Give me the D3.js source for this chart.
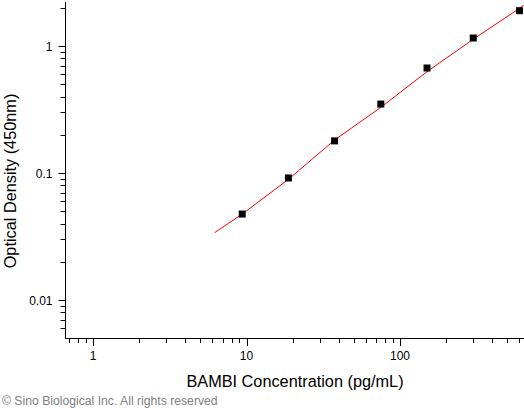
<!DOCTYPE html>
<html><head><meta charset="utf-8">
<script src="https://cdn.jsdelivr.net/npm/d3@7"></script>
<style>body{margin:0;background:#fff}svg{display:block}text{font-family:"Liberation Sans",Arial,sans-serif}</style>
</head><body>
<script>
// Data
const concentrations = [9.375, 18.75, 37.5, 75, 150, 300, 600];
const odValues = [0.0475, 0.0914, 0.179, 0.349, 0.671, 1.156, 1.897];
const fitX = [6.2, 9.375, 18.75, 37.5, 75, 150, 300, 600, 640];
const fitY = [0.0339, 0.0475, 0.0891, 0.182, 0.329, 0.628, 1.13, 1.98, 2.10];
const xMajorTicks = [1, 10, 100];
const xTickLabels = ["1", "10", "100"];
const yMajorTicks = [0.01, 0.1, 1];
const yTickLabels = ["0.01", "0.1", "1"];
const xLabel = "BAMBI Concentration (pg/mL)";
const yLabel = "Optical Density (450nm)";
const copyright = "\u00A9 Sino Biological Inc. All rights reserved";

const W = 524, H = 408;
const svg = d3.select("body").append("svg").attr("width", W).attr("height", H);

const xDec = 153.5, yDec = 127;
const xDomain = [0.657, 700];
const yDomain = [0.00502, 2.22];
const x = d3.scaleLog().domain(xDomain)
  .range([93 + xDec * Math.log10(xDomain[0]), 93 + xDec * Math.log10(xDomain[1])]);
const y = d3.scaleLog().domain(yDomain)
  .range([46 - yDec * Math.log10(yDomain[0]), 46 - yDec * Math.log10(yDomain[1])]);

const x0 = x(xDomain[0]), yB = y(yDomain[0]);

function minorTicks(lo, hi) {
  const out = [];
  for (let e = -4; e <= 4; e++) for (let m = 1; m <= 9; m++) {
    const v = m * Math.pow(10, e);
    if (v >= lo * 1.0001 && v <= hi && m !== 1) out.push(v);
  }
  return out;
}

// x axis
const gx = svg.append("g").attr("transform", `translate(0,${yB})`);
gx.append("line").attr("x1", x0).attr("x2", W + 10).attr("stroke", "#000").attr("shape-rendering", "crispEdges");
gx.selectAll(".xmin").data(minorTicks(xDomain[0], xDomain[1])).join("line")
  .attr("x1", d => Math.round(x(d)) + 0.5).attr("x2", d => Math.round(x(d)) + 0.5)
  .attr("y1", 0).attr("y2", 5).attr("stroke", "#000");
gx.selectAll(".xmaj").data(xMajorTicks).join("line")
  .attr("x1", d => Math.round(x(d)) + 0.5).attr("x2", d => Math.round(x(d)) + 0.5)
  .attr("y1", 0).attr("y2", 8).attr("stroke", "#000");
gx.selectAll(".xl").data(xMajorTicks).join("text")
  .attr("x", d => x(d)).attr("y", 22).attr("text-anchor", "middle")
  .attr("font-size", 12).text((d, i) => xTickLabels[i]);

// y axis
const gy = svg.append("g").attr("transform", `translate(${Math.round(x0) + 0.5},0)`);
gy.append("line").attr("y1", y(yDomain[1])).attr("y2", yB + 0.5).attr("stroke", "#000");
gy.selectAll(".ymin").data(minorTicks(yDomain[0], yDomain[1])).join("line")
  .attr("y1", d => Math.round(y(d)) + 0.5).attr("y2", d => Math.round(y(d)) + 0.5)
  .attr("x1", 0).attr("x2", -5).attr("stroke", "#000");
gy.selectAll(".ymaj").data(yMajorTicks).join("line")
  .attr("y1", d => Math.round(y(d)) + 0.5).attr("y2", d => Math.round(y(d)) + 0.5)
  .attr("x1", 0).attr("x2", -7).attr("stroke", "#000");
gy.selectAll(".yl").data(yMajorTicks).join("text")
  .attr("x", -13).attr("y", d => y(d) + 4.5).attr("text-anchor", "end")
  .attr("font-size", 12).text((d, i) => yTickLabels[i]);

// fit line
svg.append("path").datum(fitX.map((v, i) => [v, fitY[i]]))
  .attr("d", d3.line().x(d => x(d[0])).y(d => y(d[1])))
  .attr("fill", "none").attr("stroke", "#ff0000").attr("stroke-width", 1);

// points
svg.selectAll(".pt").data(concentrations).join("rect")
  .attr("x", d => x(d) - 3.5).attr("y", (d, i) => y(odValues[i]) - 3.5)
  .attr("width", 7).attr("height", 7).attr("fill", "#000");

// labels
svg.append("text").attr("x", 295).attr("y", 387).attr("text-anchor", "middle")
  .attr("font-size", 16.3).text(xLabel);
svg.append("text").attr("transform", "translate(16,181) rotate(-90)").attr("text-anchor", "middle")
  .attr("font-size", 16.3).text(yLabel);
svg.append("text").attr("x", 2).attr("y", 405).attr("font-size", 12.2)
  .attr("fill", "#808080").text(copyright);
</script>
</body></html>
